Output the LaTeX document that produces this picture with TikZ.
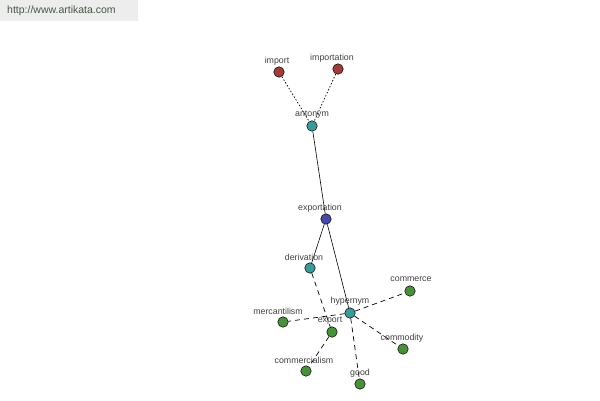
\documentclass[tikz,border=0pt]{standalone}
\usepackage{fontspec}
\setmainfont{Liberation Sans}
\begin{document}
\begin{tikzpicture}[x=1pt,y=-1pt,
  vtx/.style={circle,draw=black,line width=0.5pt,minimum size=10.5pt,inner sep=0pt},
  lbl/.style={font=\fontsize{8.8}{9}\selectfont,text=black!75,inner sep=0pt},
  red/.style={vtx,fill={rgb,255:red,160;green,60;blue,60}},
  teal/.style={vtx,fill={rgb,255:red,58;green,154;blue,154}},
  blu/.style={vtx,fill={rgb,255:red,72;green,72;blue,168}},
  grn/.style={vtx,fill={rgb,255:red,74;green,144;blue,60}},
  solidl/.style={line width=0.6pt},
  dotl/.style={line width=0.7pt,dash pattern=on 1.5pt off 1.8pt},
  dashl/.style={line width=0.7pt,dash pattern=on 5pt off 4pt}]
\useasboundingbox (0,0) rectangle (600,400);
\fill[black!7] (0,0) rectangle (138,21);
\node[font=\fontsize{10.5}{12}\selectfont,text={rgb,255:red,70;green,85;blue,70},anchor=west,inner sep=0pt] (url) at (7,11) {http://www.artikata.com};
% nodes
\node[red] (import) at (279,72) {};
\node[red] (importation) at (338,69) {};
\node[teal] (antonym) at (312,126) {};
\node[blu] (exportation) at (326,219) {};
\node[teal] (derivation) at (310,268) {};
\node[teal] (hypernym) at (350,313) {};
\node[grn] (export) at (332,332) {};
\node[grn] (commerce) at (410,291) {};
\node[grn] (mercantilism) at (283,322) {};
\node[grn] (commercialism) at (306,371) {};
\node[grn] (good) at (360,384) {};
\node[grn] (commodity) at (403,349) {};
% edges
\draw[dotl] (import) -- (antonym);
\draw[dotl] (importation) -- (antonym);
\draw[solidl] (antonym) -- (exportation);
\draw[solidl] (exportation) -- (derivation);
\draw[solidl] (exportation) -- (hypernym);
\draw[dashl] (derivation) -- (export);
\draw[dashl] (hypernym) -- (commerce);
\draw[dashl] (hypernym) -- (mercantilism);
\draw[dashl] (hypernym) -- (commodity);
\draw[dashl] (hypernym) -- (good);
\draw[dashl] (export) -- (commercialism);
% labels
\node[lbl] (Limport) at (277,61) {import};
\node[lbl] (Limportation) at (332,58) {importation};
\node[lbl] (Lantonym) at (312,115) {antonym};
\node[lbl] (Lexportation) at (320,208) {exportation};
\node[lbl] (Lderivation) at (304,257) {derivation};
\node[lbl] (Lhypernym) at (350,301) {hypernym};
\node[lbl] (Lexport) at (330,321) {export};
\node[lbl] (Lcommerce) at (411,279) {commerce};
\node[lbl] (Lmercantilism) at (278,311) {mercantilism};
\node[lbl] (Lcommercialism) at (304,360) {commercialism};
\node[lbl] (Lgood) at (360,373) {good};
\node[lbl] (Lcommodity) at (402,338) {commodity};
\end{tikzpicture}
\end{document}
